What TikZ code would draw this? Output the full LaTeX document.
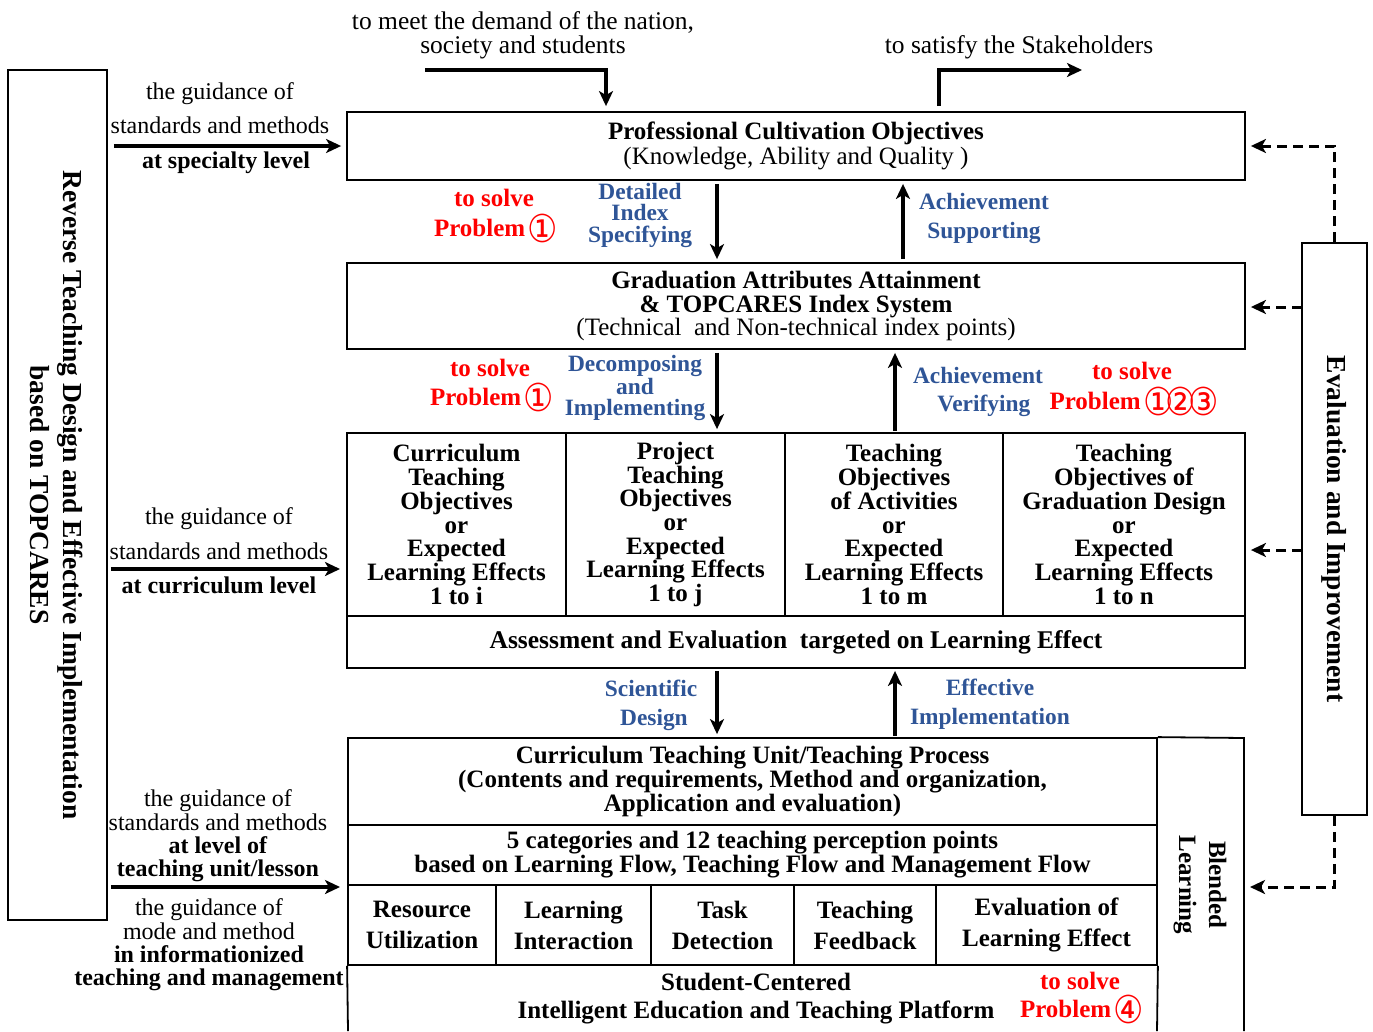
\documentclass[tikz,border=0pt]{standalone}
\usepackage{fontspec}
\setmainfont{Liberation Serif}
\newfontfamily\circfont{DejaVu Sans}
\usetikzlibrary{arrows.meta}
\definecolor{lblue}{RGB}{47,85,151}
\definecolor{lred}{RGB}{255,0,0}
\newcommand\onecirc[1]{\makebox[22.5pt][c]{\raisebox{-6pt}[16pt][2pt]{\scalebox{0.88}[1]{{\circfont\mdseries\fontsize{38.5}{38.5}\selectfont #1}}}}}
\newcommand\circd[1]{\onecirc{#1}}
\begin{document}
\begin{tikzpicture}[x=1pt,y=-1pt,
  bx/.style={draw,line width=1.8pt,inner sep=0pt,align=center},
  arr/.style={line width=3.4pt,-{Stealth[length=15pt,width=14pt,inset=4pt]}},
  dsh/.style={line width=3pt,dash pattern=on 10pt off 6pt,-{Stealth[length=15pt,width=14pt,inset=4pt]}},
  cellfont/.style={font={\fontsize{25}{23.7}\selectfont\bfseries}},
  redlab/.style={align=center,text=lred,inner sep=0pt,font={\fontsize{25}{30}\selectfont\bfseries}},
  bluelab/.style={align=center,text=lblue,inner sep=0pt,font={\fontsize{23.4}{#1}\selectfont\bfseries}},
  guide/.style={align=center,inner sep=0pt,font={\fontsize{24}{#1}\selectfont}},
  toptxt/.style={align=center,inner sep=0pt,font={\fontsize{25.5}{24}\selectfont}},
  vtxt/.style={align=center,inner sep=0pt,rotate=-90,font={\fontsize{#1}{33}\selectfont\bfseries}},
  edge/.style={line width=1.8pt}
]
\useasboundingbox (0,0) rectangle (1373,1031);
\fill[white] (0,0) rectangle (1373,1031);

% ---------- side boxes ----------
\node[bx,minimum width=99,minimum height=850] (lbox) at (57.5,495) {};
\node[vtxt=27.5] (ltxt) at (57,495) {Reverse Teaching Design and Effective Implementation\\based on TOPCARES};
\node[bx,minimum width=65,minimum height=572] (eval) at (1334.5,529) {};
\node[vtxt=27.5] (etxt) at (1334,529) {Evaluation and Improvement};

% ---------- main boxes ----------
\node[bx,minimum width=898,minimum height=68,font={\fontsize{25}{25}\selectfont}] (pco) at (796,146)
  {\textbf{Professional Cultivation\ Objectives}\\(Knowledge, Ability and Quality )};
\node[bx,minimum width=898,minimum height=86,font={\fontsize{25}{23.5}\selectfont}] (gat) at (796,306)
  {\textbf{Graduation Attributes Attainment}\\\textbf{\& TOPCARES Index System}\\(Technical\ \ and Non-technical index points)};

\node[bx,cellfont,minimum width=219,minimum height=183] (c1) at (456.5,524.5)
  {Curriculum\\Teaching\\Objectives\\or\\Expected\\Learning Effects\\1 to i};
\node[bx,cellfont,minimum width=219,minimum height=183] (c2) at (675.5,524.5)
  {Project\\Teaching\\Objectives\\or\\Expected\\Learning Effects\\1 to j};
\node[bx,cellfont,minimum width=218,minimum height=183] (c3) at (894,524.5)
  {Teaching\\Objectives\\of Activities\\or\\Expected\\Learning Effects\\1 to m};
\node[bx,cellfont,minimum width=242,minimum height=183] (c4) at (1124,524.5)
  {Teaching\\Objectives of\\Graduation Design\\or\\Expected\\Learning Effects\\1 to n};

\node[bx,minimum width=898,minimum height=52,font={\fontsize{25.5}{25}\selectfont\bfseries}] (ass) at (796,642)
  {Assessment and Evaluation\ \ targeted on Learning Effect};

\node[bx,minimum width=809,minimum height=87,font={\fontsize{25}{24}\selectfont\bfseries}] (rA) at (752.5,781.5)
  {Curriculum Teaching Unit/Teaching Process\\(Contents and requirements, Method and organization,\\Application and evaluation)};
\node[bx,minimum width=809,minimum height=60,font={\fontsize{25}{24}\selectfont\bfseries}] (rB) at (752.5,855)
  {5 categories and 12 teaching perception points\\based on Learning Flow, Teaching Flow and Management Flow};

\node[bx,minimum width=148,minimum height=80,font={\fontsize{25}{31}\selectfont\bfseries}] (k1) at (422,925) {Resource\\Utilization};
\node[bx,minimum width=155,minimum height=80,font={\fontsize{25}{31}\selectfont\bfseries}] (k2) at (573.5,925) {Learning\\Interaction};
\node[bx,minimum width=143,minimum height=80,font={\fontsize{25}{31}\selectfont\bfseries}] (k3) at (722.5,925) {Task\\Detection};
\node[bx,minimum width=142,minimum height=80,font={\fontsize{25}{31}\selectfont\bfseries}] (k4) at (865,925) {Teaching\\Feedback};
\node[bx,minimum width=221,minimum height=80,font={\fontsize{25}{31}\selectfont\bfseries}] (k5) at (1046.5,925) {Evaluation of\\Learning Effect};

% open bottom row and blended column
\coordinate (bl) at (348,1031);
\coordinate (bm) at (1157,1031);
\coordinate (br) at (1244,1031);
\coordinate (blTop) at (1244,738);
\draw[edge] (k1.south west) -- (bl);
\draw[edge] (k5.south east) -- (bm);
\draw[edge] (rA.north east) -- (blTop) -- (br);
\node[align=center,inner sep=0pt,font={\fontsize{25}{28}\selectfont\bfseries}] (plat) at (756,999)
  {Student-Centered\\Intelligent Education and Teaching Platform};
\node[vtxt=25,font={\fontsize{25}{30}\selectfont\bfseries}] (blend) at (1200,885) {Blended\\Learning};

% ---------- top texts and arrows ----------
\node[toptxt] (meet) at (523,35) {to meet the demand of the nation,\\society and students};
\node[toptxt] (sat) at (1019,47) {to satisfy the Stakeholders};
\coordinate (m0) at (425,70);
\coordinate (m1) at (606,70);
\coordinate (s0) at (939,70);
\coordinate (s1) at (1082,70);
\draw[arr,shorten >=5pt] (m0) -- (m1) -- (pco.north -| m1);
\draw[arr,shorten <=5pt] (pco.north -| s0) -- (s0) -- (s1);

% ---------- vertical arrows ----------
\coordinate (vd) at (717,0);
\coordinate (vu1) at (903,0);
\coordinate (vu) at (895,0);
\draw[arr,shorten <=3pt,shorten >=3pt] (pco.south -| vd) -- (gat.north -| vd);
\draw[arr,shorten <=3pt,shorten >=3pt] (gat.north -| vu1) -- (pco.south -| vu1);
\draw[arr,shorten <=3pt,shorten >=3pt] (gat.south -| vd) -- (c2.north -| vd);
\draw[arr,shorten <=1pt,shorten >=3pt] (c3.north -| vu) -- (gat.south -| vu);
\draw[arr,shorten <=2pt,shorten >=3pt] (ass.south -| vd) -- (rA.north -| vd);
\draw[arr,shorten <=1pt,shorten >=2pt] (rA.north -| vu) -- (ass.south -| vu);

% ---------- labels ----------
\node[redlab] (r1) at (494,214) {to solve\\Problem \circd{①}};
\node[bluelab=21.5] (b1) at (640,215) {Detailed\\Index\\Specifying};
\node[bluelab=29] (b2) at (984,218) {Achievement\\Supporting};
\node[redlab,font={\fontsize{25}{29}\selectfont\bfseries}] (r2) at (490,383) {to solve\\Problem \circd{①}};
\node[bluelab=21] (b3) at (635,388) {Decomposing\\and\\Implementing};
\node[bluelab=28] (b4) at (978,392) {Achievement\\\ \ Verifying};
\node[redlab] (r3) at (1132,387) {to solve\\Problem \circd{①}\circd{②}\circd{③}};
\node[bluelab=29] (b5) at (651,705) {Scientific\\\ Design};
\node[bluelab=29] (b6) at (990,704) {Effective\\Implementation};
\node[redlab,font={\fontsize{25}{28}\selectfont\bfseries}] (r4) at (1080,996) {to solve\\Problem \circd{④}};

% ---------- guidance arrows on the left ----------
\node[guide=34.5] (g1) at (220,128) {the guidance of\\standards and methods\\\textbf{\ \ at specialty level}};
\node[guide=34.5] (g2) at (219,551) {the guidance of\\standards and methods\\\textbf{at curriculum level}};
\node[guide=23.3] (g3) at (218,836) {the guidance of\\standards and methods\\\textbf{at level of}\\\textbf{teaching unit/lesson}};
\node[guide=23.3] (g4) at (209,945) {the guidance of\\mode and method\\\textbf{in informationized}\\\textbf{teaching and management}};
\coordinate (t2) at (347,569);
\coordinate (t3) at (348,887);
\draw[arr,shorten <=6pt,shorten >=5pt] (lbox.east |- pco.west) -- (pco.west);
\draw[arr,shorten <=3pt,shorten >=7pt] (lbox.east |- t2) -- (t2);
\draw[arr,shorten <=3pt,shorten >=8pt] (lbox.east |- t3) -- (t3);

% ---------- dashed feedback ----------
\coordinate (e2) at (1302,307);
\coordinate (e3) at (1302,550);
\coordinate (e4) at (1244,887);
\draw[dsh,shorten >=5pt] (eval.north) |- (pco.east);
\draw[dsh,shorten >=5pt] (e2) -- (e2 -| gat.east);
\draw[dsh,shorten >=5pt] (e3) -- (e3 -| c4.east);
\draw[dsh,shorten >=6pt] (eval.south) |- (e4);
\end{tikzpicture}
\end{document}
